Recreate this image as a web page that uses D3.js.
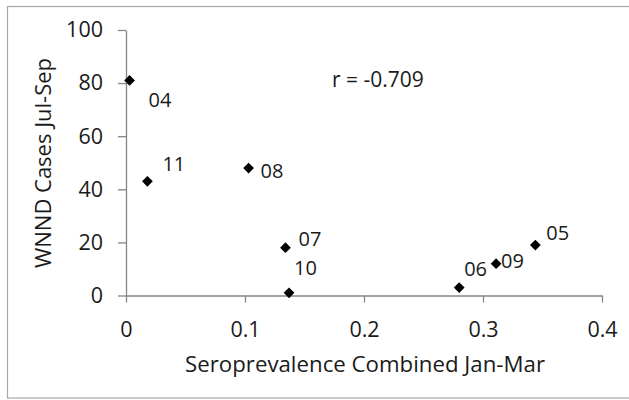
<!DOCTYPE html>
<html>
<head>
<meta charset="utf-8">
<script src="https://d3js.org/d3.v7.min.js"></script>
<style>
  body { margin: 0; background: #fff; }
  text { font-family: "Open Sans", sans-serif; fill: #1a1a1a; }
</style>
</head>
<body>
<div id="chart"></div>
<script>
// data
var years = ["04", "05", "06", "07", "08", "09", "10", "11"];
var seroprev = [0.003, 0.344, 0.280, 0.134, 0.103, 0.311, 0.137, 0.018];
var cases = [81, 19, 3, 18, 48, 12, 1, 43];
var xTicks = [0, 0.1, 0.2, 0.3, 0.4];
var yTicks = [0, 20, 40, 60, 80, 100];

// label offsets (px) from each marker, like excel put them
var labelDx = [19, 11, 5, 13, 12, 5, 5, 15];
var labelDy = [20, -12, -19, -9, 3, -3, -25, -17];

var W = 629, H = 400;
var svg = d3.select("#chart").append("svg").attr("width", W).attr("height", H);

// outer frame (right edge runs off the picture)
svg.append("rect").attr("x", 7.5).attr("y", 6.5).attr("width", 640).attr("height", 391.5)
  .attr("fill", "#fff").attr("stroke", "#a6a6a6").attr("stroke-width", 1.2);

var x = d3.scaleLinear().domain([0, 0.4]).range([126, 602]);
var y = d3.scaleLinear().domain([0, 100]).range([295.5, 30]);

var xAxis = svg.append("g").attr("transform", "translate(0," + y(0) + ")")
  .call(d3.axisBottom(x).tickValues(xTicks).tickSize(7).tickSizeOuter(0).tickPadding(19)
    .tickFormat(function (d) { return d === 0 ? "0" : d3.format(".1f")(d); }));
var yAxis = svg.append("g").attr("transform", "translate(" + x(0) + ",0)")
  .call(d3.axisLeft(y).tickValues(yTicks).tickSize(8).tickSizeOuter(0).tickPadding(15));

[xAxis, yAxis].forEach(function (g) {
  g.selectAll("path, line").attr("stroke", "#868686").attr("stroke-width", 1.3);
  g.selectAll("text").style("font-size", "21.5px").attr("fill", "#1a1a1a");
});

var pts = years.map(function (d, i) { return { yr: d, sx: seroprev[i], c: cases[i], dx: labelDx[i], dy: labelDy[i] }; });

svg.selectAll(".pt").data(pts).enter().append("path")
  .attr("class", "pt")
  .attr("d", d3.symbol().type(d3.symbolSquare).size(58))
  .attr("transform", function (d) { return "translate(" + x(d.sx) + "," + y(d.c) + ") rotate(45)"; })
  .attr("fill", "#000");

svg.selectAll(".lbl").data(pts).enter().append("text")
  .attr("class", "lbl")
  .attr("x", function (d) { return x(d.sx) + d.dx; })
  .attr("y", function (d) { return y(d.c) + d.dy; })
  .attr("dy", "0.35em")
  .style("font-size", "20px")
  .text(function (d) { return d.yr; });

svg.append("text").attr("x", 332).attr("y", 80).attr("dy", "0.35em")
  .style("font-size", "21px").text("r = -0.709");

svg.append("text").attr("x", 185).attr("y", 365).attr("dy", "0.35em")
  .attr("textLength", 360).attr("lengthAdjust", "spacingAndGlyphs")
  .style("font-size", "21px")
  .text("Seroprevalence Combined Jan-Mar");

svg.append("text").attr("transform", "translate(44,163) rotate(-90)").attr("dy", "0.35em")
  .attr("x", -105).attr("textLength", 210).attr("lengthAdjust", "spacingAndGlyphs")
  .style("font-size", "21px")
  .text("WNND Cases Jul-Sep");
</script>
</body>
</html>
